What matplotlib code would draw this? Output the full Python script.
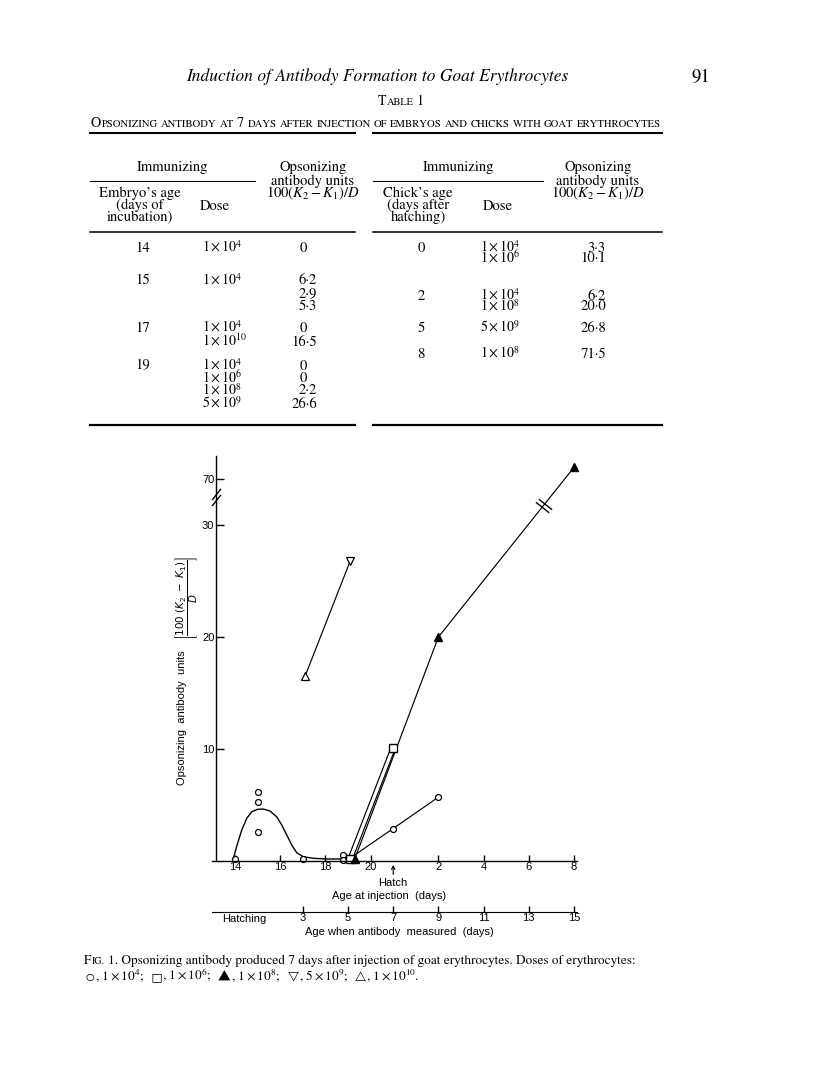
import numpy as np
import matplotlib
matplotlib.use("Agg")
import matplotlib.pyplot as plt
from matplotlib.path import Path

# ---------------- Table 1 ----------------
emb_age = ["14", "15", "", "", "17", "", "19", "", "", ""]
emb_dose = ["1e4", "1e4", "", "", "1e4", "1e10", "1e4", "1e6", "1e8", "5e9"]
emb_units = ["0", "6·2", "2·9", "5·3", "0", "16·5", "0", "0", "2·2", "26·6"]

chick_age = ["0", "", "2", "", "5", "8"]
chick_dose = ["1e4", "1e6", "1e4", "1e8", "5e9", "1e8"]
chick_units = ["3·3", "10·1", "6·2", "20·0", "26·8", "71·5"]

# ---------------- Fig. 1 ----------------
# x = age at injection in days of incubation; hatch = day 21, chick day n = 21 + n
curve_x = [13.93, 14.07, 14.30, 14.52, 14.74, 14.99, 15.25, 15.55, 15.84,
           16.07, 16.29, 16.51, 16.73, 17.02, 17.47, 18.06, 18.79]
curve_y = [0.24, 1.28, 2.77, 3.81, 4.40, 4.61, 4.64, 4.46, 3.96,
           3.21, 2.32, 1.43, 0.74, 0.38, 0.24, 0.18, 0.18]

circ_x = [14, 15, 15, 15, 17, 18.8, 18.8, 21, 23]
circ_y = [0.2, 6.2, 5.3, 2.6, 0.2, 0.5, 0.1, 2.9, 5.7]
circ_line_x = [19.2, 21, 23]
circ_line_y = [0.4, 2.9, 5.7]

sq_x = [19.1, 21]
sq_y = [0.2, 10.1]

tri_x = [19.3, 23, 29]
tri_y = [0.2, 20.0, 71.5]

hi_x = [17.1, 19.1]      # 1e10 (open up-triangle), 5e9 (open down-triangle)
hi_y = [16.5, 26.8]

xtick_pos = [14, 16, 18, 20, 23, 25, 27, 29]
xtick_lab = ["14", "16", "18", "20", "2", "4", "6", "8"]
ytick_pos = [10, 20, 30, 70]
meas_ticks = [3, 5, 7, 9, 11, 13, 15]

SERIF = ["STIXGeneral", "DejaVu Serif"]
plt.rcParams["font.family"] = ["Liberation Sans", "DejaVu Sans"]

W, H = 816, 1083
fig = plt.figure(figsize=(W / 100, H / 100), dpi=100)
page = fig.add_axes([0, 0, 1, 1])
page.set_xlim(0, W)
page.set_ylim(H, 0)
page.axis("off")
renderer = fig.canvas.get_renderer()


def text_runs(x, y, runs, ha="left"):
    items = []
    cur = 0.0
    for s, size in runs:
        gap = 0.25 * size * 100 / 72
        cur += (len(s) - len(s.lstrip(" "))) * gap
        core = s.strip(" ")
        if core:
            t = page.text(x + cur, y, core, fontsize=size, va="baseline",
                          ha="left", family=SERIF, math_fontfamily="stix")
            items.append(t)
            cur += t.get_window_extent(renderer).width + 0.4
        cur += (len(s) - len(s.rstrip(" "))) * gap
    if ha == "center":
        for t in items:
            t.set_x(t.get_position()[0] - cur / 2)


def small_caps(s, big, small):
    runs = []
    for ch in s:
        if ch == " " and runs:
            runs[-1][0] += ch
            continue
        size = big if (ch.isupper() or ch.isdigit()) else small
        c = ch.upper()
        if runs and runs[-1][1] == size and not runs[-1][0].endswith(" "):
            runs[-1][0] += c
        else:
            runs.append([c, size])
    return [tuple(r) for r in runs]


def dose_tex(s):
    m, e = s.split("e")
    return r"$%s\times10^{%s}$" % (m, e)


# header
page.text(377, 77, "Induction of Antibody Formation to Goat Erythrocytes",
          family=SERIF, style="italic", fontsize=12.5, ha="center", va="center")
page.text(701, 77, "91", family=SERIF, fontsize=13.5, ha="center", va="center")
text_runs(401, 105, small_caps("Table 1", 10, 7.5), ha="center")
text_runs(376, 127, small_caps("Opsonizing antibody at 7 days after injection of "
                               "embryos and chicks with goat erythrocytes", 10.2, 7.7),
          ha="center")
page.plot([90, 355], [133, 133], color="k", lw=1.5)
page.plot([373, 662], [133, 133], color="k", lw=1.5)

# table headers
FS = 10.5
tk = dict(family=SERIF, fontsize=FS, va="baseline", math_fontfamily="stix")
tkd = dict(tk, fontsize=10)
for cx_imm, x0, x1, cx_op, cx_age, age_lines, cx_dose, right in [
        (172.5, 90, 255, 313, 140, ["Embryo’s age", "(days of", "incubation)"], 215, 355),
        (459, 373, 543, 598, 418, ["Chick’s age", "(days after", "hatching)"], 498, 662)]:
    page.text(cx_imm, 171.5, "Immunizing", ha="center", **tk)
    page.plot([x0, x1], [181, 181], color="k", lw=0.8)
    page.text(cx_op, 171.5, "Opsonizing", ha="center", **tk)
    page.text(cx_op, 184.5, "antibody units", ha="center", **tk)
    page.text(cx_op, 197.5, r"$100(K_2-K_1)/D$", ha="center", **tk)
    for i, s in enumerate(age_lines):
        page.text(cx_age, 197.5 + 12 * i, s, ha="center", **tk)
    page.text(cx_dose, 209.5, "Dose", ha="center", **tk)
    page.plot([x0, right], [232, 232], color="k", lw=1.1)
    page.plot([x0, right], [425, 425], color="k", lw=1.6)

emb_row_y = [247, 280, 293, 305, 327, 341, 365, 378, 390, 403]
for yy, a, d, u in zip(emb_row_y, emb_age, emb_dose, emb_units):
    b = yy + 4.5
    if a:
        page.text(143, b, a, ha="center", **tk)
    if d:
        page.text(202, b, dose_tex(d), ha="left", **tkd)
    page.text(317 if "·" in u else 307, b, u, ha="right", **tk)

chick_row_y = [247, 258, 295, 306, 327, 353]
for yy, a, d, u in zip(chick_row_y, chick_age, chick_dose, chick_units):
    b = yy + 4.5
    if a:
        page.text(421, b, a, ha="center", **tk)
    page.text(480, b, dose_tex(d), ha="left", **tkd)
    page.text(606, b, u, ha="right", **tk)

# ---------------- chart ----------------
PX_DAY, PX_UNIT = 22.6, 11.2
X0, X1 = 12.95, 29.6
U0, U1 = -1.0, 36.4


def xpx(d):
    return 235 + (d - 14) * PX_DAY


def fwd(v):
    v = np.asarray(v, dtype=float)
    return np.where(v <= 30, v,
                    np.where(v <= 70, 30 + (v - 30) * 0.1025, 34.1 + (v - 70) * 0.7))


def inv(u):
    u = np.asarray(u, dtype=float)
    return np.where(u <= 30, u,
                    np.where(u <= 34.1, 30 + (u - 30) / 0.1025, 70 + (u - 34.1) / 0.7))


ybot = 861 - U0 * PX_UNIT
ytop = 861 - U1 * PX_UNIT
ax = fig.add_axes([xpx(X0) / W, 1 - ybot / H, (xpx(X1) - xpx(X0)) / W, (ybot - ytop) / H])
ax.patch.set_visible(False)
ax.set_yscale("function", functions=(fwd, inv))
ax.set_xlim(X0, X1)
ax.set_ylim(U0, float(inv(U1)))

for s in ["top", "right"]:
    ax.spines[s].set_visible(False)
ax.spines["left"].set_position(("data", 13.15))
ax.spines["left"].set_bounds(0, 73.0)
ax.spines["bottom"].set_position(("data", 0))
ax.spines["bottom"].set_bounds(12.98, 29.13)
for s in ["left", "bottom"]:
    ax.spines[s].set_linewidth(1.0)

ax.set_xticks(xtick_pos)
ax.set_xticklabels(xtick_lab)
ax.set_yticks(ytick_pos)
ax.set_yticklabels([str(v) for v in ytick_pos])
ax.minorticks_off()
ax.tick_params(axis="x", direction="in", length=4.5, width=1, pad=0.5, labelsize=8)
ax.tick_params(axis="y", direction="in", length=5.5, width=1, pad=1, labelsize=8)

lw = 0.85
ax.plot(curve_x, curve_y, color="k", lw=1.0, clip_on=False)
ax.plot(circ_line_x, circ_line_y, color="k", lw=lw, clip_on=False)
ax.plot(hi_x, hi_y, color="k", lw=lw, clip_on=False)
ax.plot(tri_x, tri_y, color="k", lw=lw, clip_on=False)
ax.plot(sq_x, sq_y, color="k", lw=4.0, solid_capstyle="butt", clip_on=False)
ax.plot(sq_x, sq_y, color="w", lw=2.3, solid_capstyle="butt", clip_on=False)

ax.plot(circ_x, circ_y, ls="none", marker="o", ms=4.3, mfc="w", mec="k", mew=0.9, clip_on=False)
ax.plot(sq_x, sq_y, ls="none", marker="s", ms=5.2, mfc="w", mec="k", mew=1.0, clip_on=False)
ax.plot(tri_x, tri_y, ls="none", marker="^", ms=5.5, mfc="k", mec="k", clip_on=False)
ax.plot(hi_x[:1], hi_y[:1], ls="none", marker="^", ms=5.5, mfc="w", mec="k", mew=0.9, clip_on=False)
ax.plot(hi_x[1:], hi_y[1:], ls="none", marker="v", ms=5.5, mfc="w", mec="k", mew=0.9, clip_on=False)

# axis break on the y axis
slash = Path([(-0.8, -1), (0.8, 1)], [Path.MOVETO, Path.LINETO])
ax.plot([13.15, 13.15], inv([32.2, 32.75]), ls="none", marker=slash, ms=8,
        mfc="none", mec="k", mew=1.0, clip_on=False)

# break marks on the 1e8 line
perp = Path([(-0.781, 0.624), (0.781, -0.624)], [Path.MOVETO, Path.LINETO])
ua, ub = fwd(tri_y[1]), fwd(tri_y[2])
for t in (0.765, 0.785):
    ax.plot([tri_x[1] + t * (tri_x[2] - tri_x[1])], [inv(ua + t * (ub - ua))],
            ls="none", marker=perp, ms=9.5, mfc="none", mec="k", mew=1.0, clip_on=False)

ax.annotate("Hatch", xy=(21, -0.35), xytext=(0, -13), textcoords="offset points",
            ha="center", va="center", fontsize=8, annotation_clip=False,
            arrowprops=dict(arrowstyle="->,head_length=0.3,head_width=0.15",
                            lw=0.8, color="k", shrinkA=0.5, shrinkB=0))

page.text(389, 896, "Age at injection  (days)", ha="center", va="center", fontsize=8)
page.text(399, 932, "Age when antibody  measured  (days)", ha="center", va="center", fontsize=8)

page.text(182, 718, "Opsonizing  antibody  units", rotation=90, ha="center", va="center",
          fontsize=8)
page.text(187, 598, r"$\left[\dfrac{100\ (K_2\ -\ K_1)}{D}\right]$", rotation=90,
          ha="center", va="center", fontsize=7.5, math_fontfamily="dejavusans")

# second axis: age when antibody measured (days after hatching)
ax2 = fig.add_axes([xpx(X0) / W, 1 - 912 / H, (xpx(X1) - xpx(X0)) / W, 0.0005])
ax2.patch.set_visible(False)
ax2.set_xlim(X0 - 14, X1 - 14)
for s in ["top", "right", "left"]:
    ax2.spines[s].set_visible(False)
ax2.spines["bottom"].set_bounds(12.98 - 14, 29.13 - 14)
ax2.set_yticks([])
ax2.set_xticks(meas_ticks)
ax2.set_xticklabels([str(v) for v in meas_ticks])
ax2.set_xticks([0.4], ["Hatching"], minor=True)
ax2.tick_params(axis="x", which="major", direction="in", length=4.5, width=1, pad=0.5, labelsize=8)
ax2.tick_params(axis="x", which="minor", length=0, pad=1.5, labelsize=8)

# figure caption
text_runs(84, 964, small_caps("Fig.", 9.5, 7.2) +
          [(" 1. Opsonizing antibody produced 7 days after injection of goat "
            "erythrocytes. Doses of erythrocytes:", 9.5)])
text_runs(86, 980, [("\u25cb", 7.5), (", $1\\times10^{4}$;  ", 9.5),
                    ("\u25a1", 8), (", $1\\times10^{6}$;  ", 9.5),
                    ("\u25b2", 8), (", $1\\times10^{8}$;  ", 9.5),
                    ("\u25bd", 7), (", $5\\times10^{9}$;  ", 9.5),
                    ("\u25b3", 7), (", $1\\times10^{10}$.", 9.5)])

fig.savefig("out.png", dpi=100)
